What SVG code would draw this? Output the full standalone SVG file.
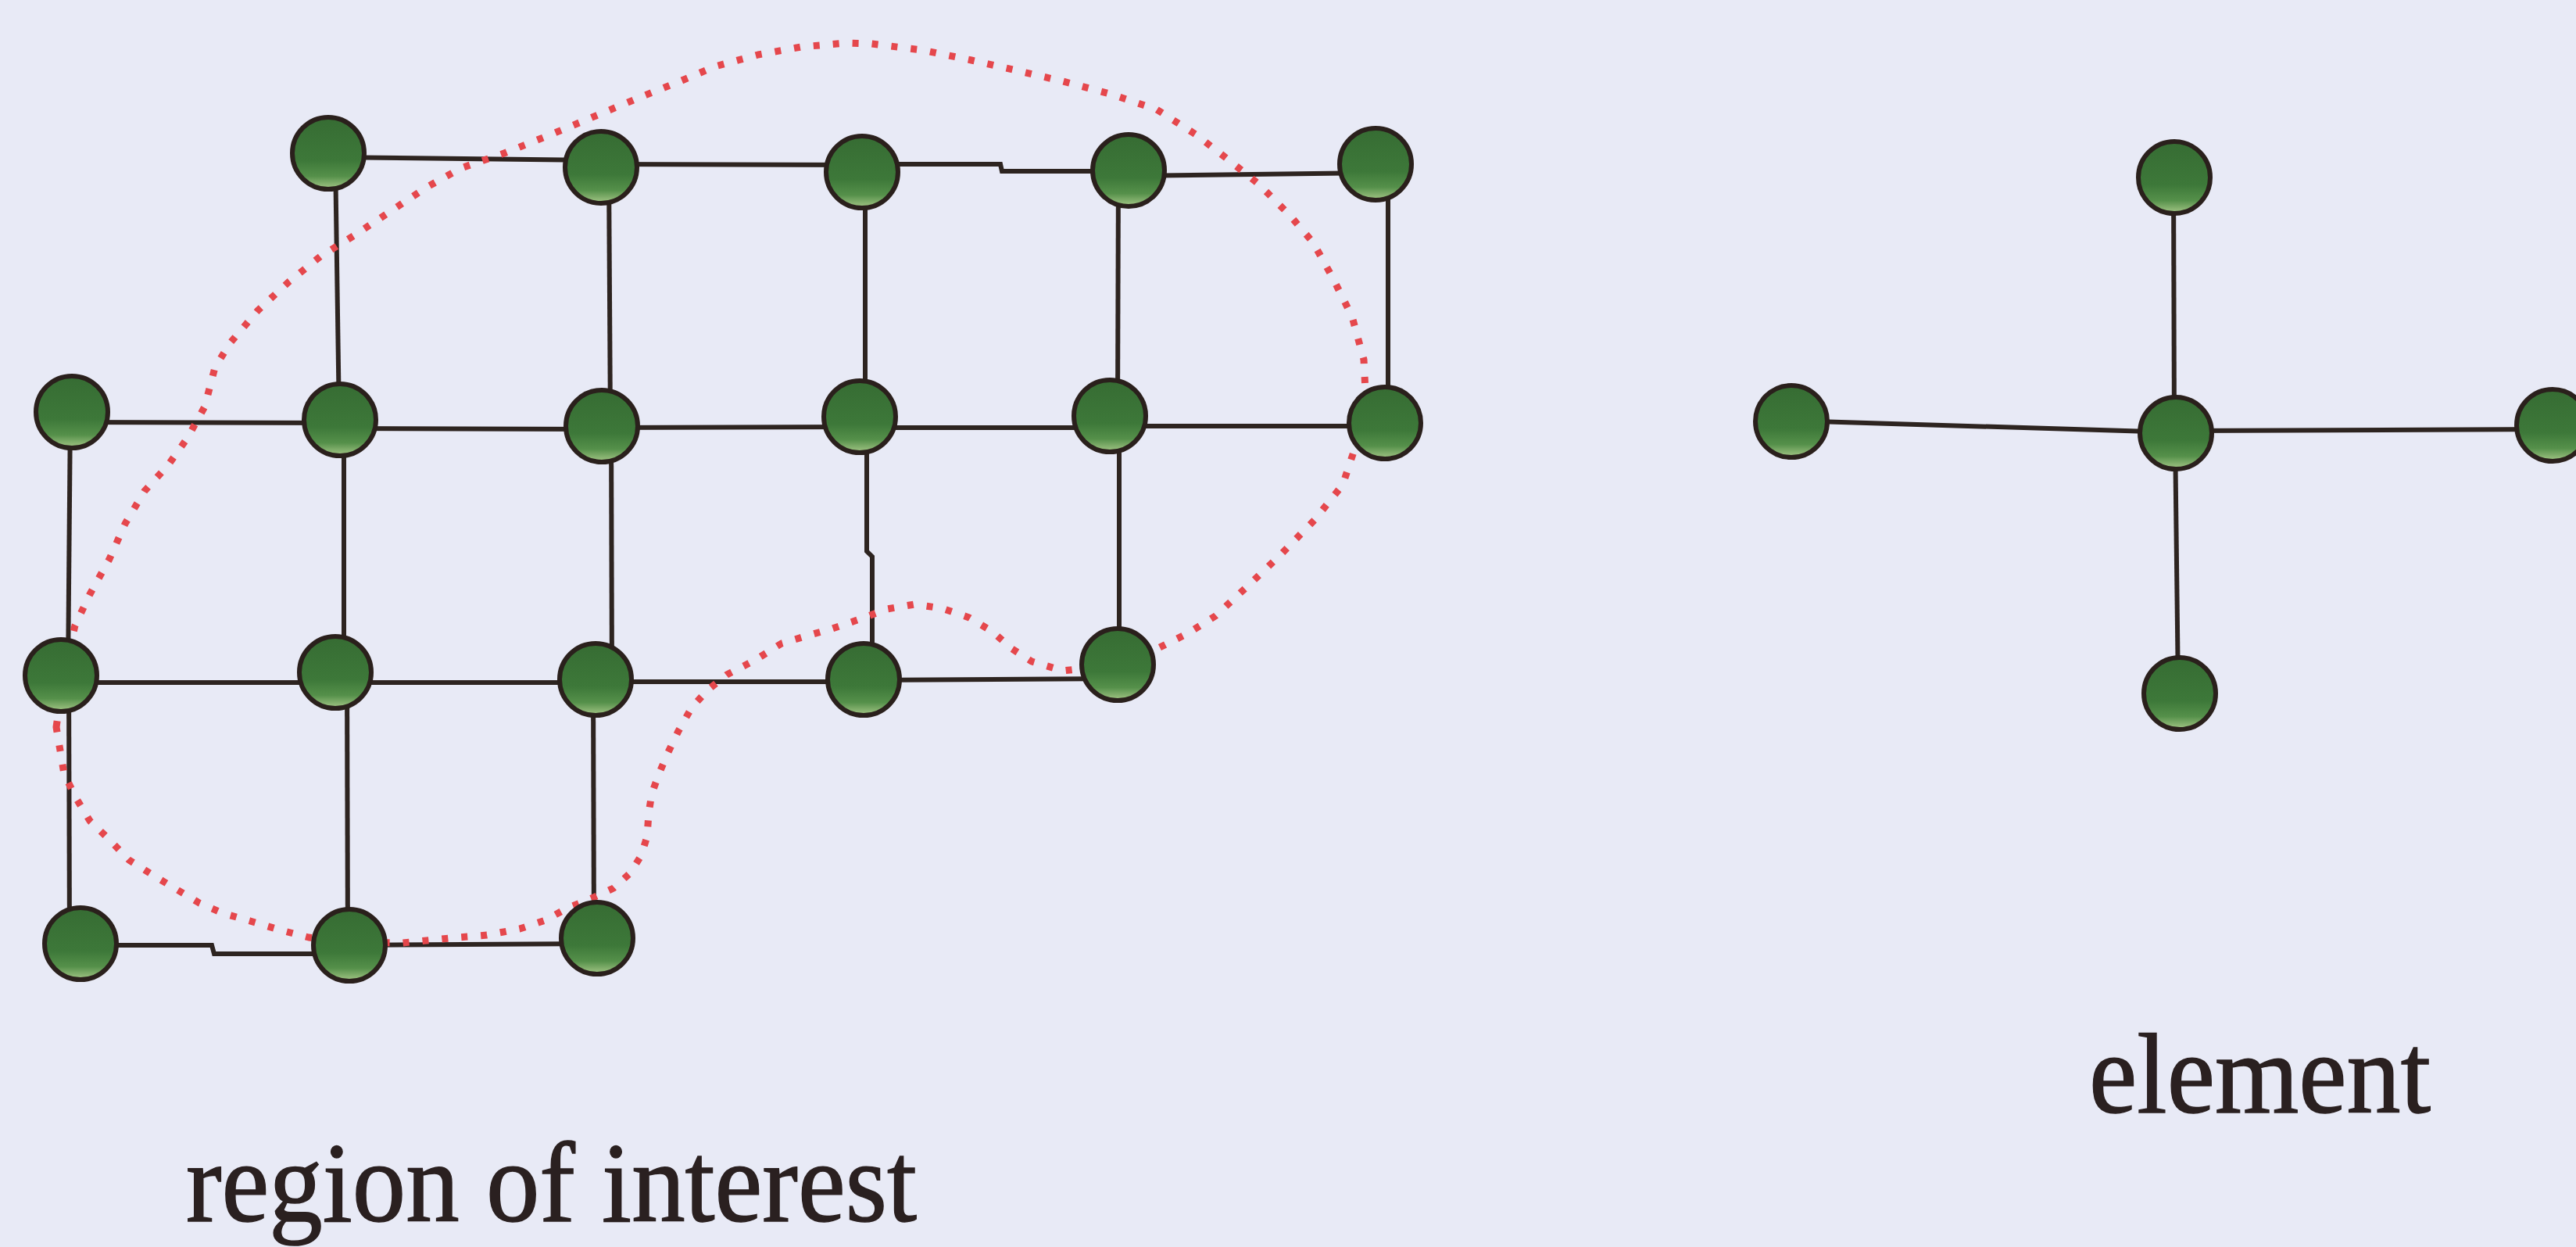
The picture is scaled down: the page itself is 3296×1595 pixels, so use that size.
<svg xmlns="http://www.w3.org/2000/svg" width="3296" height="1595" viewBox="0 0 3296 1595">
  <defs>
    <linearGradient id="nodeFill" x1="0" y1="0" x2="0" y2="1">
      <stop offset="0" stop-color="#366c33"/>
      <stop offset="0.6" stop-color="#3d7839"/>
      <stop offset="0.82" stop-color="#55904a"/>
      <stop offset="1" stop-color="#a6c888"/>
    </linearGradient>
    <style>
      .edge { stroke: #2d2420; stroke-width: 6; fill: none; stroke-linecap: butt; }
      .node { fill: url(#nodeFill); stroke: #2a201c; stroke-width: 6; }
      .roi { fill: none; stroke: #e5474c; stroke-width: 9; stroke-dasharray: 8 17; stroke-linejoin: round; }
      .label { font-family: "Liberation Serif", "DejaVu Serif", serif; font-size: 146px; fill: #2a2020; stroke: #2a2020; stroke-width: 1.5; }
    </style>
  </defs>

  <rect x="0" y="0" width="3296" height="1595" fill="#e8eaf6"/>

  <!-- connectors -->
  <g id="connectors">
    <!-- grid: horizontal -->
    <path class="edge" d="M420,201 L770,205"/>
    <path class="edge" d="M770,210 L1104,211"/>
    <path class="edge" d="M1104,210 L1280,210 L1282,219 L1444,219"/>
    <path class="edge" d="M1444,225 L1760,221"/>
    <path class="edge" d="M92,540 L435,541"/>
    <path class="edge" d="M435,548 L770,549"/>
    <path class="edge" d="M770,547 L1100,546"/>
    <path class="edge" d="M1100,547 L1420,547"/>
    <path class="edge" d="M1420,545 L1772,545"/>
    <path class="edge" d="M78,873 L429,873"/>
    <path class="edge" d="M429,873 L762,873"/>
    <path class="edge" d="M762,872 L1105,872"/>
    <path class="edge" d="M1105,870 L1430,868"/>
    <path class="edge" d="M103,1209 L271,1209 L274,1220 L447,1220"/>
    <path class="edge" d="M447,1209 L764,1207"/>
    <!-- grid: vertical -->
    <path class="edge" d="M429,200 L434,537"/>
    <path class="edge" d="M779,214 L781,545"/>
    <path class="edge" d="M1107,220 L1107,533"/>
    <path class="edge" d="M1431,218 L1430,532"/>
    <path class="edge" d="M1776,210 L1776,541"/>
    <path class="edge" d="M90,527 L87,864"/>
    <path class="edge" d="M440,537 L440,860"/>
    <path class="edge" d="M782,545 L783,869"/>
    <path class="edge" d="M1109,533 L1109,705 L1116,712 L1116,869"/>
    <path class="edge" d="M1432,532 L1432,850"/>
    <path class="edge" d="M88,864 L89,1207"/>
    <path class="edge" d="M444,860 L445,1209"/>
    <path class="edge" d="M759,869 L760,1200"/>
    <!-- element -->
    <path class="edge" d="M2291,538 L2784,553"/>
    <path class="edge" d="M2784,551 L3266,549"/>
    <path class="edge" d="M2781,227 L2782,553"/>
    <path class="edge" d="M2783,553 L2787,885"/>
  </g>

  <!-- region of interest boundary -->
  <path id="region-boundary" class="roi" d="M72,930 L82,860 L96,800 L115,760 L140,715 L160,670 L185,628 L215,595 L240,560 L262,520 L275,470 L295,438 L330,397 L370,360 L410,328 L455,300 L500,270 L545,240 L590,215 L645,196 L705,172 L765,147 L820,124 L870,104 L915,85 L970,70 L1025,60 L1083,55 L1115,56 L1180,64 L1243,77 L1300,90 L1360,104 L1420,120 L1480,140 L1530,172 L1570,203 L1610,235 L1650,275 L1680,310 L1705,355 L1730,405 L1745,460 L1747,500 L1738,560 L1718,620 L1682,665 L1640,708 L1596,750 L1555,788 L1520,810 L1480,830 L1430,850 L1360,858 L1320,846 L1295,830 L1270,808 L1240,790 L1205,778 L1170,773 L1135,779 L1100,792 L1065,804 L1030,814 L1000,823 L965,845 L930,863 L905,883 L885,905 L868,935 L855,962 L843,990 L834,1015 L830,1040 L828,1070 L820,1095 L806,1117 L785,1136 L755,1150 L725,1162 L698,1177 L665,1188 L623,1196 L575,1200 L515,1206 L450,1205 L395,1199 L360,1190 L320,1178 L285,1168 L255,1155 L230,1140 L200,1122 L165,1100 L138,1072 L115,1050 L98,1022 L82,990 Z"/>

  <!-- grid nodes -->
  <g id="n-a0"><circle class="node" cx="420" cy="196" r="46"/></g>
  <g id="n-a1"><circle class="node" cx="769" cy="214" r="46"/></g>
  <g id="n-a2"><circle class="node" cx="1103" cy="220" r="46"/></g>
  <g id="n-a3"><circle class="node" cx="1444" cy="218" r="46"/></g>
  <g id="n-a4"><circle class="node" cx="1760" cy="210" r="46"/></g>
  <g id="n-b0"><circle class="node" cx="92" cy="527" r="46"/></g>
  <g id="n-b1"><circle class="node" cx="435" cy="537" r="46"/></g>
  <g id="n-b2"><circle class="node" cx="770" cy="545" r="46"/></g>
  <g id="n-b3"><circle class="node" cx="1100" cy="533" r="46"/></g>
  <g id="n-b4"><circle class="node" cx="1420" cy="532" r="46"/></g>
  <g id="n-b5"><circle class="node" cx="1772" cy="541" r="46"/></g>
  <g id="n-c0"><circle class="node" cx="78" cy="864" r="46"/></g>
  <g id="n-c1"><circle class="node" cx="429" cy="860" r="46"/></g>
  <g id="n-c2"><circle class="node" cx="762" cy="869" r="46"/></g>
  <g id="n-c3"><circle class="node" cx="1105" cy="869" r="46"/></g>
  <g id="n-c4"><circle class="node" cx="1430" cy="850" r="46"/></g>
  <g id="n-d0"><circle class="node" cx="103" cy="1207" r="46"/></g>
  <g id="n-d1"><circle class="node" cx="447" cy="1209" r="46"/></g>
  <g id="n-d2"><circle class="node" cx="764" cy="1200" r="46"/></g>

  <!-- element nodes -->
  <g id="e-top"><circle class="node" cx="2782" cy="227" r="46"/></g>
  <g id="e-left"><circle class="node" cx="2292" cy="539" r="46"/></g>
  <g id="e-center"><circle class="node" cx="2784" cy="554" r="46"/></g>
  <g id="e-right"><circle class="node" cx="3266" cy="544" r="46"/></g>
  <g id="e-bottom"><circle class="node" cx="2789" cy="887" r="46"/></g>

  <!-- labels -->
  <text class="label" x="238" y="1562" textLength="935" lengthAdjust="spacingAndGlyphs">region of interest</text>
  <text class="label" x="2673" y="1423" textLength="437" lengthAdjust="spacingAndGlyphs">element</text>
</svg>
